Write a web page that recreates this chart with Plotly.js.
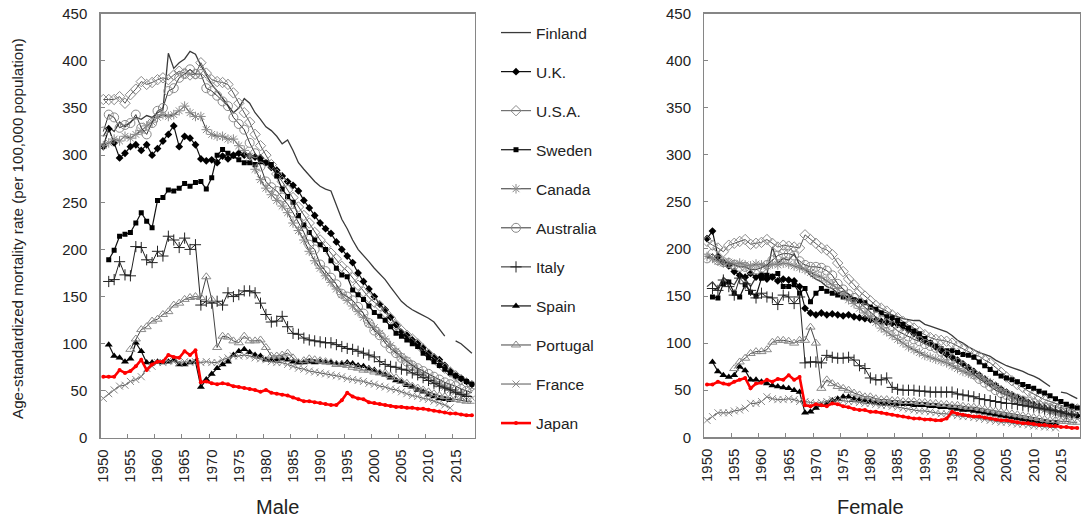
<!DOCTYPE html>
<html>
<head>
<meta charset="utf-8">
<script src="https://cdn.plot.ly/plotly-3.0.1.min.js"></script>
<style>html,body{margin:0;padding:0;background:#fff;}#chart{width:1086px;height:523px;}</style>
</head>
<body>
<div id="chart"></div>
<script>
// Years 1950..2018
const years = [];
for (let y = 1950; y <= 2018; y++) years.push(y);
const tickYears = [1950,1955,1960,1965,1970,1975,1980,1985,1990,1995,2000,2005,2010,2015];
const countries = ["Finland","U.K.","U.S.A.","Sweden","Canada","Australia","Italy","Spain","Portugal","France","Japan"];

// ---------- MALE ----------
const finlandMale = [320,330,325,335,330,335,340,338,342,340,345,348,408,392,398,402,410,407,395,385,375,368,360,352,345,350,360,355,345,338,330,326,320,312,316,305,292,285,278,272,267,264,262,246,232,222,210,200,194,187,180,174,168,160,152,145,140,136,133,130,127,123,116,108,null,103,100,95,90];
const ukMale = [309,328,313,297,302,309,311,305,311,300,307,315,322,331,309,320,318,311,296,294,295,292,299,296,300,302,300,299,298,297,292,287,284,278,272,268,262,252,244,236,228,222,217,208,200,193,186,175,166,158,150,142,136,128,120,112,109,104,100,96,90,86,83,77,71,66,63,60,57];
const usaMale = [359,359,359,362,355,364,370,378,375,377,380,382,380,385,389,387,385,386,398,387,380,378,377,375,366,355,345,335,322,310,300,290,280,272,263,255,245,236,228,218,210,203,196,190,182,177,170,162,155,149,144,140,133,127,120,114,109,105,100,94,89,84,79,74,70,66,62,58,55];
const swedenMale = [null,189,199,214,216,218,228,239,230,223,252,255,263,262,265,270,267,271,272,264,276,300,306,302,299,295,292,292,290,293,292,290,278,264,256,250,236,226,218,210,205,200,188,180,173,171,157,152,147,140,133,129,125,118,111,108,104,100,97,90,85,81,77,73,69,66,63,60,57];
const canadaMale = [310,313,317,315,320,318,322,326,331,335,340,343,341,343,347,352,345,341,341,327,322,320,320,317,317,310,305,299,285,274,265,258,252,246,239,228,220,210,198,188,180,172,165,158,152,146,140,134,128,122,117,111,105,98,92,86,82,77,72,68,64,60,57,54,51,49,47,45,null];
const australiaMale = [325,343,340,329,332,334,343,329,322,334,347,350,368,371,382,386,391,386,386,371,368,363,357,352,340,333,327,313,302,288,272,266,262,255,248,239,228,218,205,200,184,177,170,163,153,150,146,139,132,122,114,109,101,95,90,85,81,77,74,71,68,65,62,59,57,55,52,50,48];
const italyMale = [null,166,168,187,173,172,203,202,189,186,198,193,214,210,202,212,200,205,141,145,143,145,141,154,150,152,156,156,154,143,131,123,124,129,118,111,110,106,104,103,102,101,101,99,97,95,94,92,90,88,86,81,78,76,75,73,72,69,67,64,61,58,55,53,51,48,46,44,null];
const spainMale = [null,99,87,85,81,84,101,92,80,80,81,80,81,83,78,78,80,81,54,62,68,74,78,81,88,92,94,91,88,87,83,83,83,84,83,81,80,80,81,80,81,80,80,79,79,80,79,77,76,74,72,69,67,64,61,59,56,54,51,49,46,44,42,41,40,null,null,null,null];
const portugalMale = [null,null,null,null,null,94,105,115,118,124,126,131,134,141,143,147,149,150,149,171,147,96,108,107,103,101,108,103,103,104,96,87,87,88,90,85,80,82,84,83,82,81,80,78,78,77,75,74,72,72,70,69,69,66,64,60,58,55,53,51,49,47,45,44,42,41,40,39,39];
const franceMale = [42,47,51,55,56,60,62,65,74,76,80,80,82,81,80,81,80,81,80,81,80,80,83,85,87,87,88,87,85,84,83,81,80,80,78,76,74,73,71,70,69,68,67,66,65,63,62,61,60,58,57,55,54,52,51,49,47,45,44,42,41,39,37,35,32,null,null,null,null];
const japanMale = [65,65,65,72,69,71,76,83,72,78,81,81,88,86,85,92,88,93,59,60,58,57,58,57,55,54,53,52,51,49,51,48,47,46,45,43,41,39,39,38,37,36,35,35,40,48,44,42,41,38,37,36,35,34,33,33,32,32,31,31,30,29,28,27,26,26,25,24,24];

// ---------- FEMALE ----------
const finlandFemale = [160,165,158,170,165,162,172,168,160,170,175,173,202,185,190,188,195,183,178,172,168,165,160,158,153,155,152,148,146,143,140,137,134,132,130,128,126,125,124,124,120,118,116,114,112,108,103,100,96,93,90,88,86,82,79,76,74,72,70,67,65,62,58,54,null,48,47,44,41];
const ukFemale = [211,219,192,186,182,176,172,170,174,170,172,168,170,166,168,167,166,160,137,132,130,132,130,131,130,129,130,128,127,126,125,124,123,122,121,120,117,114,110,106,103,100,96,92,88,85,82,78,74,70,66,62,58,55,51,48,45,42,40,37,35,33,31,29,27,26,25,24,23];
const usaFemale = [208,204,201,197,204,206,208,210,205,206,207,210,206,202,204,203,202,201,215,210,206,201,199,194,185,176,168,162,155,150,145,140,137,134,130,127,123,119,116,112,109,106,104,103,102,100,97,94,91,88,86,82,79,74,69,64,60,56,53,49,46,43,40,38,36,34,32,31,30];
const swedenFemale = [null,149,148,163,165,153,149,162,154,150,169,172,171,174,160,160,162,153,158,144,153,158,155,153,151,149,148,146,145,143,138,136,132,128,127,124,120,116,113,110,105,100,97,94,92,92,90,88,87,85,80,76,72,68,65,63,61,59,56,54,52,49,47,44,41,38,35,33,31];
const canadaFemale = [192,190,187,185,186,184,185,183,182,184,183,182,184,183,185,184,182,180,178,175,172,170,166,162,158,152,146,142,137,132,128,122,116,112,108,104,100,96,93,90,87,85,83,81,79,76,73,70,68,66,64,61,58,54,50,46,43,40,37,35,33,31,29,27,25,24,22,null,null];
const australiaFemale = [190,195,188,186,185,183,181,181,178,178,180,183,188,193,195,195,193,187,183,181,181,180,177,172,163,157,152,148,143,137,133,128,124,121,118,113,110,107,104,102,99,97,95,91,87,83,79,75,71,67,62,58,54,50,47,45,43,41,39,38,36,34,32,31,29,27,26,25,24];
const italyFemale = [null,158,156,167,160,151,169,163,156,148,153,149,148,141,151,149,142,149,79,80,80,79,87,85,84,84,85,82,76,73,63,61,61,63,53,51,50,50,50,49,49,48,48,48,48,48,46,45,44,43,41,40,39,38,37,36,36,35,34,33,32,31,30,29,28,27,25,24,null];
const spainFemale = [null,80,70,66,64,66,75,71,61,61,59,57,55,54,53,52,50,48,26,27,31,34,36,39,41,43,43,41,40,39,38,37,36,36,36,35,35,35,34,34,34,33,33,32,32,31,30,29,29,28,27,26,25,24,23,22,21,20,19,18,17,16,16,15,15,null,null,null,null];
const portugalFemale = [null,null,null,null,null,73,80,84,89,91,91,93,101,103,103,102,100,103,103,117,100,52,61,57,54,52,50,47,45,43,43,41,40,40,39,39,38,38,38,37,37,36,36,35,35,34,34,33,32,32,31,30,29,28,27,26,25,24,23,22,21,20,19,18,18,17,17,16,16];
const franceFemale = [18,22,26,26,26,28,29,31,36,36,38,43,41,40,40,41,40,38,38,37,36,37,38,40,39,39,38,38,37,36,36,35,34,34,33,32,31,30,29,28,28,27,26,25,25,24,23,22,22,21,20,19,18,17,16,16,15,14,14,13,12,12,11,11,10,null,null,null,null];
const japanFemale = [56,56,59,57,56,59,61,63,52,57,58,61,59,62,61,66,61,64,34,33,35,34,33,36,35,33,32,30,29,29,27,27,26,25,24,23,22,21,20,20,19,19,18,18,20,27,25,24,23,22,22,21,20,19,18,18,17,16,15,15,14,13,13,12,12,11,11,10,10];

const maleSeries = [finlandMale, ukMale, usaMale, swedenMale, canadaMale, australiaMale, italyMale, spainMale, portugalMale, franceMale, japanMale];
const femaleSeries = [finlandFemale, ukFemale, usaFemale, swedenFemale, canadaFemale, australiaFemale, italyFemale, spainFemale, portugalFemale, franceFemale, japanFemale];

// styles per country (same order as countries)
const styles = [
  {line:{color:'#3a3a3a', width:1.3}, mode:'lines'},
  {line:{color:'#111', width:1.2}, marker:{symbol:'diamond', size:6, color:'#000'}},
  {line:{color:'#555', width:1}, marker:{symbol:'diamond-open', size:8, color:'#8a8a8a', line:{width:1}}},
  {line:{color:'#111', width:1.2}, marker:{symbol:'square', size:5, color:'#000'}},
  {line:{color:'#333', width:1}, marker:{symbol:'asterisk-open', size:8, color:'#8a8a8a', line:{width:1}}},
  {line:{color:'#333', width:1}, marker:{symbol:'circle-open', size:9, color:'#8a8a8a', line:{width:1}}},
  {line:{color:'#222', width:1}, marker:{symbol:'cross-thin-open', size:8, color:'#222', line:{width:1}}},
  {line:{color:'#111', width:1.2}, marker:{symbol:'triangle-up', size:7, color:'#000'}},
  {line:{color:'#444', width:1}, marker:{symbol:'triangle-up-open', size:8, color:'#8a8a8a', line:{width:1}}},
  {line:{color:'#555', width:1}, marker:{symbol:'x-thin-open', size:7, color:'#8a8a8a', line:{width:1}}},
  {line:{color:'#ff0000', width:2.6}, marker:{symbol:'circle', size:4, color:'#ff0000'}}
];

const traces = [];
function addPanel(series, xa, ya, showLegend) {
  series.forEach((vals, i) => {
    const st = styles[i];
    const t = {
      type:'scatter', x: years, y: vals, name: countries[i],
      legendgroup: countries[i], showlegend: showLegend,
      xaxis: xa, yaxis: ya,
      mode: st.mode || 'lines+markers',
      line: st.line, connectgaps:false, hoverinfo:'x+y+name'
    };
    if (st.marker) t.marker = st.marker;
    traces.push(t);
  });
}
addPanel(maleSeries, 'x', 'y', true);
addPanel(femaleSeries, 'x2', 'y2', false);

const fontFam = 'Liberation Sans, Arial, sans-serif';
const axisX = {
  range:[1949.5, 2018.5], tickmode:'array', tickvals: tickYears, ticktext: tickYears.map(String),
  ticks:'', tickangle:-90, tickfont:{size:15, color:'#222', family:fontFam},
  showline:true, linecolor:'#868686', linewidth:1.3, mirror:true, showgrid:false, zeroline:false,
  ticklabelstandoff: 4,
  minor:{tickmode:'array', tickvals: tickYears.slice(1).map(v=>v-0.5), ticks:'inside', ticklen:4, tickcolor:'#868686', tickwidth:1, showgrid:false}
};
const axisY = {
  range:[0,450], tickmode:'linear', tick0:0, dtick:50, ticks:'inside', ticklen:4, tickcolor:'#868686',
  tickfont:{size:15, color:'#222', family:fontFam},
  showline:true, linecolor:'#868686', linewidth:1.3, mirror:true, showgrid:false, zeroline:false,
  ticklabelstandoff: 9
};

const layout = {
  width:1086, height:523, margin:{l:0,r:0,t:0,b:0},
  paper_bgcolor:'#fff', plot_bgcolor:'#fff',
  font:{family:fontFam, color:'#222'},
  showlegend:true,
  xaxis: Object.assign({}, axisX, {domain:[100.6/1086, 474.6/1086], anchor:'y'}),
  yaxis: Object.assign({}, axisY, {domain:[85/523, 509.3/523], anchor:'x'}),
  xaxis2: Object.assign({}, axisX, {domain:[704.3/1086, 1080/1086], anchor:'y2'}),
  yaxis2: Object.assign({}, axisY, {domain:[85.7/523, 509.5/523], anchor:'x2'}),
  legend:{x:496/1086, xanchor:'left', y:1-16/523, yanchor:'top', traceorder:'grouped', tracegroupgap:15.9,
    font:{size:15.5, color:'#222', family:fontFam}, bgcolor:'rgba(0,0,0,0)', itemwidth:30},
  annotations:[
    {text:'Male', xref:'paper', yref:'paper', x:277/1086, y:1-507/523, xanchor:'center', yanchor:'middle', showarrow:false, font:{size:20, color:'#222', family:fontFam}},
    {text:'Female', xref:'paper', yref:'paper', x:870/1086, y:1-507/523, xanchor:'center', yanchor:'middle', showarrow:false, font:{size:20, color:'#222', family:fontFam}},
    {text:'Age-standardized mortality rate (per 100,000 population)', xref:'paper', yref:'paper', x:17/1086, y:1-229/523, xanchor:'center', yanchor:'middle', textangle:-90, showarrow:false, font:{size:15.2, color:'#222', family:fontFam}}
  ]
};

Plotly.newPlot('chart', traces, layout, {staticPlot:true, displayModeBar:false});
</script>
</body>
</html>
